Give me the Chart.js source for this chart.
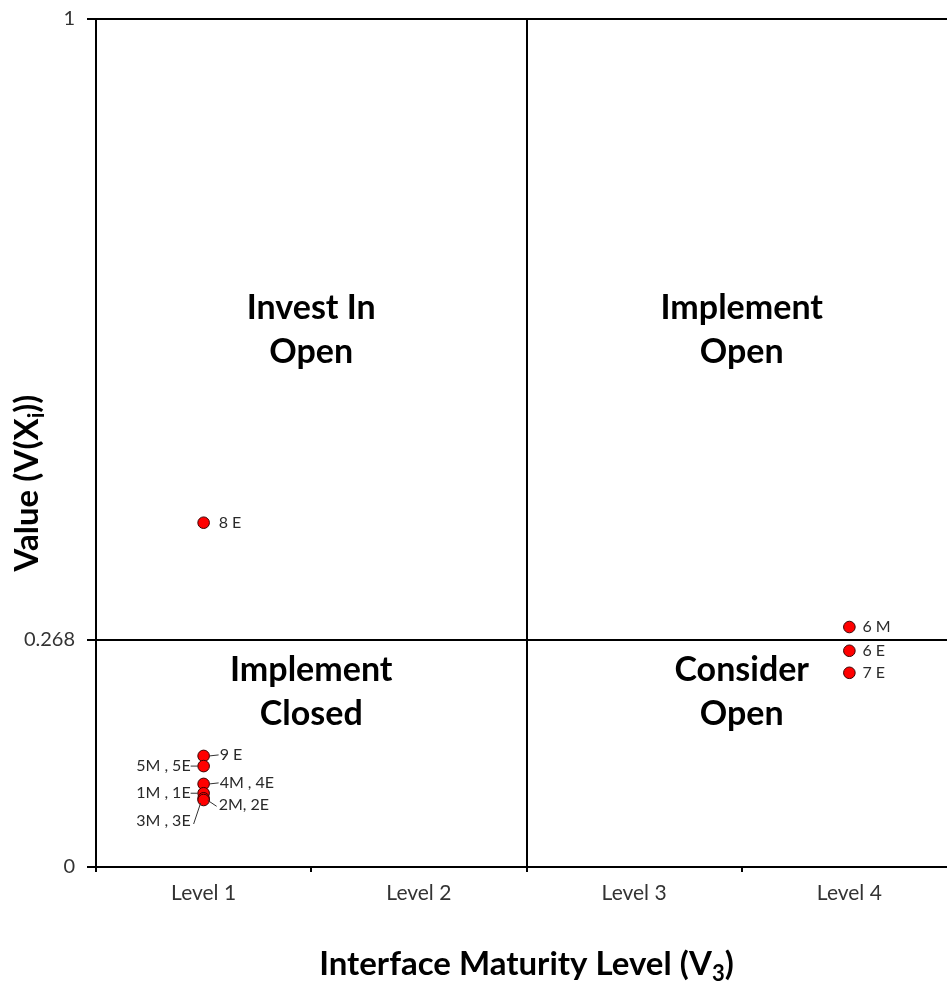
<!DOCTYPE html>
<html><head><meta charset="utf-8">
<script src="https://cdn.jsdelivr.net/npm/chart.js@4.4.0/dist/chart.umd.min.js"></script>
<style>html,body{margin:0;padding:0;background:#fff;overflow:hidden;} #wrap{width:968px;height:981px;position:relative;}</style>
</head><body><div id="wrap"><canvas id="c" width="968" height="981"></canvas></div>
<script>
// ---- data ----
const categories = ['Level 1', 'Level 2', 'Level 3', 'Level 4'];
const pointNames = ['8 E', '6 M', '6 E', '7 E', '9 E', '5M , 5E', '4M , 4E', '1M , 1E', '2M, 2E', '3M , 3E'];
const pointLevels = [1, 4, 4, 4, 1, 1, 1, 1, 1, 1];
const pointValues = [0.406, 0.283, 0.255, 0.229, 0.131, 0.119, 0.098, 0.087, 0.081, 0.079];
const yTickValues = [0, 0.268, 1];
const xTickValues = [0.5, 1, 1.5, 2, 2.5, 3, 3.5, 4, 4.5];
const quadrantTitles = [['Invest In', 'Open'], ['Implement', 'Open'], ['Implement', 'Closed'], ['Consider', 'Open']];
const quadrantLevel = [1.5, 3.5, 1.5, 3.5];
const quadrantValue = [0.633, 0.633, 0.206, 0.206];
const valueThreshold = 0.268;
const levelDivider = 2.5;
const xTitle = ['Interface Maturity Level (V', '3', ')'];
const yTitle = ['Value (V(X', 'i', '))'];

// ---- label placement (pixel offsets from each point) ----
const labelPlacement = [
  {tx: 15, ty: 0, align: 'left'},
  {tx: 13, ty: 0, align: 'left'},
  {tx: 13, ty: 0, align: 'left'},
  {tx: 13, ty: 0, align: 'left'},
  {tx: 16, ty: -1, align: 'left', line: [6, 0, 15, -1]},
  {tx: -13, ty: 0, align: 'right', line: [-6, 0, -13, 0]},
  {tx: 16, ty: -1, align: 'left', line: [6, 0, 15, -1]},
  {tx: -13, ty: 0, align: 'right', line: [-6, 0, -13, 0]},
  {tx: 15, ty: 7, align: 'left', line: [4, 2, 13, 8]},
  {tx: -13, ty: 21, align: 'right', line: [-3, 3, -10, 24]}
];

const FONT = 'Lato, "Open Sans", sans-serif';

function drawSubText(ctx, parts, size, subSize, subDrop) {
  ctx.font = 'bold ' + size + 'px ' + FONT;
  const w0 = ctx.measureText(parts[0]).width;
  const w2 = ctx.measureText(parts[2]).width;
  ctx.font = 'bold ' + subSize + 'px ' + FONT;
  const w1 = ctx.measureText(parts[1]).width;
  const total = w0 + w1 + w2;
  let x = -total / 2;
  ctx.textAlign = 'left';
  ctx.textBaseline = 'alphabetic';
  ctx.font = 'bold ' + size + 'px ' + FONT;
  ctx.fillText(parts[0], x, 0); x += w0;
  ctx.font = 'bold ' + subSize + 'px ' + FONT;
  ctx.fillText(parts[1], x, subDrop); x += w1;
  ctx.font = 'bold ' + size + 'px ' + FONT;
  ctx.fillText(parts[2], x, 0);
}

const labelPlugin = {
  id: 'pointLabels',
  afterDatasetsDraw(chart) {
    const ctx = chart.ctx;
    const meta = chart.getDatasetMeta(0);
    ctx.save();
    ctx.font = '16px ' + FONT;
    ctx.fillStyle = '#2a2a2a';
    ctx.strokeStyle = '#333';
    ctx.lineWidth = 1;
    ctx.textBaseline = 'middle';
    meta.data.forEach((pt, i) => {
      const p = labelPlacement[i];
      if (p.line) {
        ctx.beginPath();
        ctx.moveTo(pt.x + p.line[0], pt.y + p.line[1]);
        ctx.lineTo(pt.x + p.line[2], pt.y + p.line[3]);
        ctx.stroke();
      }
      ctx.textAlign = p.align;
      ctx.fillText(pointNames[i], pt.x + p.tx, pt.y + p.ty);
    });
    ctx.restore();
  },
  afterDraw(chart) {
    const ctx = chart.ctx;
    const xs = chart.scales.x, ys = chart.scales.y;
    ctx.save();
    ctx.fillStyle = '#000';
    ctx.font = 'bold 34px ' + FONT;
    ctx.textAlign = 'center';
    ctx.textBaseline = 'middle';
    quadrantTitles.forEach((lines, i) => {
      const cx = xs.getPixelForValue(quadrantLevel[i]);
      const cy = ys.getPixelForValue(quadrantValue[i]);
      ctx.fillText(lines[0], cx, cy - 22);
      ctx.fillText(lines[1], cx, cy + 22);
    });
    // x axis title
    ctx.save();
    ctx.translate((chart.chartArea.left + chart.chartArea.right) / 2, 975);
    drawSubText(ctx, xTitle, 33, 22, 6);
    ctx.restore();
    // y axis title
    ctx.save();
    ctx.translate(38, 483);
    ctx.rotate(-Math.PI / 2);
    drawSubText(ctx, yTitle, 33, 22, 6);
    ctx.restore();
    ctx.restore();
  }
};

const data = {
  datasets: [{
    data: pointLevels.map((lv, i) => ({x: lv, y: pointValues[i]})),
    backgroundColor: '#ff0000',
    borderColor: '#3a0000',
    borderWidth: 1,
    pointRadius: 5.8,
    pointHoverRadius: 5.8
  }]
};

new Chart(document.getElementById('c'), {
  type: 'scatter',
  data,
  plugins: [labelPlugin],
  options: {
    responsive: false,
    animation: false,
    layout: {padding: {top: 19, right: 11, bottom: 0, left: 0}},
    plugins: {legend: {display: false}, tooltip: {enabled: false}},
    scales: {
      x: {
        type: 'linear', min: 0.5, max: 4.5,
        afterBuildTicks: s => { s.ticks = xTickValues.map(v => ({value: v})); },
        afterFit: s => { s.height = 114; s.paddingLeft = 0; s.paddingRight = 0; },
        ticks: {
          autoSkip: false, maxRotation: 0, padding: 9,
          color: '#333', font: {family: FONT, size: 21},
          callback: v => Number.isInteger(v) ? categories[v - 1] : ''
        },
        grid: {
          drawOnChartArea: true,
          color: c => (c.tick && c.tick.value === levelDivider) ? '#000' : 'rgba(0,0,0,0)',
          tickColor: c => (c.tick && !Number.isInteger(c.tick.value)) ? '#000' : 'rgba(0,0,0,0)',
          lineWidth: 2, tickWidth: 2, tickLength: 5
        },
        border: {display: true, color: '#000', width: 2}
      },
      y: {
        type: 'linear', min: 0, max: 1,
        afterBuildTicks: s => { s.ticks = yTickValues.map(v => ({value: v})); },
        afterFit: s => { s.width = 96; s.paddingTop = 0; s.paddingBottom = 0; },
        ticks: {
          autoSkip: false, padding: 12,
          color: '#333', font: {family: FONT, size: 20},
          callback: v => String(v)
        },
        grid: {
          color: c => (c.tick && (c.tick.value === valueThreshold || c.tick.value === 1)) ? '#000' : 'rgba(0,0,0,0)',
          tickColor: '#000',
          lineWidth: 2, tickWidth: 2, tickLength: 9
        },
        border: {display: true, color: '#000', width: 2}
      }
    }
  }
});
</script>
</body></html>
